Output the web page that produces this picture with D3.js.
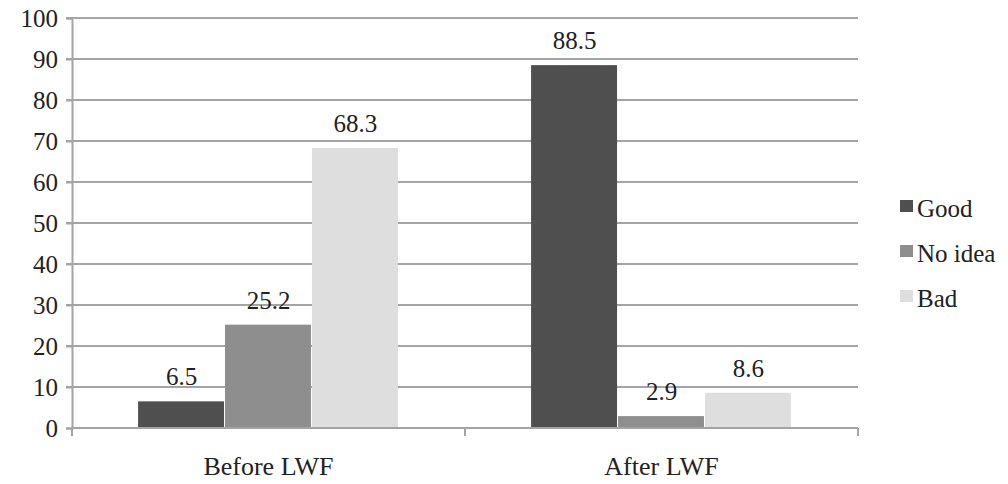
<!DOCTYPE html>
<html>
<head>
<meta charset="utf-8">
<script src="https://cdn.jsdelivr.net/npm/d3@7"></script>
<style>
  body { margin: 0; background: #fff; }
  text { font-family: "Liberation Serif", serif; }
</style>
</head>
<body>
<div id="chart"></div>
<script>
// Chart data
const categories = ["Before LWF", "After LWF"];
const seriesNames = ["Good", "No idea", "Bad"];
const goodValues = [6.5, 88.5];
const noIdeaValues = [25.2, 2.9];
const badValues = [68.3, 8.6];
const yTicks = [0, 10, 20, 30, 40, 50, 60, 70, 80, 90, 100];

const seriesColors = ["#4f4f4f", "#8e8e8e", "#dedede"];
const seriesValues = [goodValues, noIdeaValues, badValues];

const textColor = "#222";
const gridColor = "#a4a4a4";
const width = 1008, height = 484;
const margin = { left: 72, right: 150, top: 18, bottom: 56 };

// put serif font on a text selection (attr and inline style both)
const serifText = (sel, size) => sel
    .attr("font-family", "Liberation Serif")
    .attr("font-size", size)
    .style("font-family", "Liberation Serif, serif")
    .style("font-size", size + "px")
    .attr("fill", textColor);

const svg = d3.select("#chart")
    .append("svg")
    .attr("width", width)
    .attr("height", height)
    .attr("font-family", "Liberation Serif");

const x0 = d3.scaleBand()
    .domain(categories)
    .range([margin.left, width - margin.right])
    .paddingInner(0)
    .paddingOuter(0);

const x1 = d3.scaleBand()
    .domain(seriesNames)
    .range([0, x0.bandwidth()])
    .paddingOuter(0.76)
    .paddingInner(0);

const y = d3.scaleLinear()
    .domain([0, 100])
    .range([height - margin.bottom, margin.top]);

// Gridlines
svg.append("g")
    .selectAll("line")
    .data(yTicks.filter(t => t > 0))
    .join("line")
    .attr("x1", margin.left - 6)
    .attr("x2", width - margin.right)
    .attr("y1", d => y(d))
    .attr("y2", d => y(d))
    .attr("stroke", gridColor)
    .attr("stroke-width", 2);

// Y axis
const yAxis = svg.append("g")
    .attr("transform", `translate(${margin.left},0)`)
    .call(d3.axisLeft(y).tickValues(yTicks).tickSize(6).tickPadding(8))
    .attr("font-family", "Liberation Serif");
yAxis.select(".domain").attr("stroke", gridColor).attr("stroke-width", 2);
yAxis.selectAll(".tick line").attr("stroke", gridColor).attr("stroke-width", 2);
serifText(yAxis.selectAll(".tick text"), 25);

// Bars
const groups = svg.append("g")
    .selectAll("g")
    .data(categories)
    .join("g")
    .attr("transform", d => `translate(${x0(d)},0)`);

groups.selectAll("rect")
    .data((d, i) => seriesNames.map((s, j) => ({ s, v: seriesValues[j][i], c: seriesColors[j] })))
    .join("rect")
    .attr("x", d => x1(d.s))
    .attr("y", d => y(d.v))
    .attr("width", x1.bandwidth() - 1)
    .attr("height", d => y(0) - y(d.v))
    .attr("fill", d => d.c);

serifText(groups.selectAll("text")
    .data((d, i) => seriesNames.map((s, j) => ({ s, v: seriesValues[j][i] })))
    .join("text")
    .attr("x", d => x1(d.s) + x1.bandwidth() / 2)
    .attr("y", d => y(d.v) - 16)
    .attr("text-anchor", "middle")
    .text(d => d.v.toFixed(1)), 25);

// X axis
const xAxis = svg.append("g")
    .attr("transform", `translate(0,${y(0)})`);
xAxis.append("line")
    .attr("x1", margin.left)
    .attr("x2", width - margin.right)
    .attr("stroke", gridColor)
    .attr("stroke-width", 2);
xAxis.selectAll("line.tick")
    .data([margin.left, x0(categories[1]), width - margin.right])
    .join("line")
    .attr("class", "tick")
    .attr("x1", d => d)
    .attr("x2", d => d)
    .attr("y1", 0)
    .attr("y2", 8)
    .attr("stroke", gridColor)
    .attr("stroke-width", 2);
serifText(xAxis.selectAll("text")
    .data(categories)
    .join("text")
    .attr("x", d => x0(d) + x0.bandwidth() / 2)
    .attr("y", 47)
    .attr("text-anchor", "middle")
    .text(d => d), 26);

// Legend
const legend = svg.append("g")
    .attr("transform", "translate(900,200)");
const items = legend.selectAll("g")
    .data(seriesNames)
    .join("g")
    .attr("transform", (d, i) => `translate(0,${i * 45})`);
items.append("rect")
    .attr("width", 13)
    .attr("height", 12)
    .attr("fill", (d, i) => seriesColors[i]);
serifText(items.append("text")
    .attr("x", 17)
    .attr("y", 17)
    .text(d => d), 25);
</script>
</body>
</html>
